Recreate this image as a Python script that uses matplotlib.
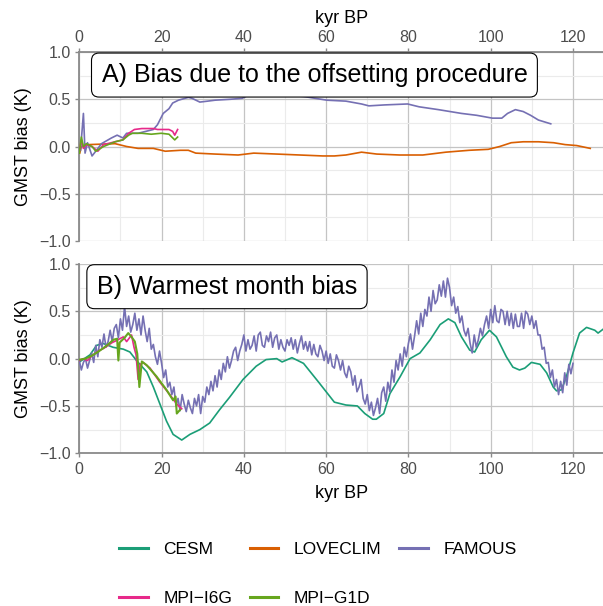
import matplotlib
matplotlib.use('Agg')
import matplotlib.pyplot as plt
from matplotlib.lines import Line2D
from matplotlib.ticker import MultipleLocator
import numpy as np

plt.rcParams['font.family'] = ['Liberation Sans', 'DejaVu Sans']

# ---------------- data ----------------
model_names = ['CESM', 'LOVECLIM', 'FAMOUS', 'MPI\u2212I6G', 'MPI\u2212G1D']
model_colors = ['#1b9e77', '#d95f02', '#7570b3', '#e7298a', '#66a61e']

# Panel A: bias due to the offsetting procedure
loveclim_a_age = [0.1, 0.5, 2.2, 8.7, 11.5, 14.3, 18, 20.9, 24.6, 26.5, 28.3, 33, 38.6, 42.4, 48,
                  53.6, 59.2, 62, 64.8, 68.6, 72.3, 77.9, 83.5, 89.1, 94.8, 99.4, 102.2, 105,
                  107.9, 111.6, 115.3, 118.1, 120.9, 124.2]
loveclim_a_gmst = [-0.07, 0.0, 0.02, 0.03, 0.0, -0.02, -0.02, -0.05, -0.04, -0.04, -0.07, -0.08,
                   -0.09, -0.07, -0.08, -0.09, -0.10, -0.10, -0.09, -0.06, -0.08, -0.09, -0.09,
                   -0.06, -0.04, -0.03, 0.0, 0.04, 0.05, 0.05, 0.04, 0.02, 0.01, -0.02]

famous_a_age = [0.3, 1.0, 1.4, 2.0, 3.1, 4.0, 5.4, 7.8, 9.2, 10.6, 11.5, 14.3, 18, 19, 20.4,
                21.8, 22.7, 24.1, 26.5, 27.4, 29.3, 31.2, 33, 36.8, 39.6, 41.4, 43.3, 45.2, 48,
                51.7, 54.5, 57.3, 60.2, 64.8, 68.6, 70.4, 74.2, 79.8, 82.6, 87.3, 92.9, 96.6,
                100.4, 102.7, 104.1, 106, 107.9, 109.7, 111.6, 114.6]
famous_a_gmst = [-0.04, 0.35, -0.07, 0.04, -0.10, -0.05, 0.03, 0.09, 0.12, 0.09, 0.14, 0.14,
                 0.18, 0.23, 0.35, 0.40, 0.46, 0.49, 0.52, 0.51, 0.47, 0.48, 0.49, 0.50, 0.51,
                 0.55, 0.57, 0.56, 0.54, 0.54, 0.53, 0.51, 0.49, 0.48, 0.45, 0.43, 0.44, 0.45,
                 0.42, 0.39, 0.35, 0.33, 0.30, 0.30, 0.35, 0.39, 0.37, 0.33, 0.28, 0.24]

mpi_i6g_a_age = [0.0, 0.5, 1.0, 1.7, 3.1, 4.5, 5.9, 8.7, 10.6, 12, 13.4, 15.2, 18, 19, 21.8,
                 22.7, 23.2, 23.9]
mpi_i6g_a_gmst = [-0.05, 0.07, -0.02, 0.02, 0.0, -0.05, 0.02, 0.05, 0.07, 0.14, 0.18, 0.19,
                  0.19, 0.18, 0.18, 0.16, 0.12, 0.18]

mpi_g1d_a_age = [0.0, 0.5, 1.0, 1.7, 3.1, 4.0, 5.9, 8.7, 10.6, 12, 12.9, 15.2, 17.5, 19.9,
                 21.8, 23.2, 23.9]
mpi_g1d_a_gmst = [-0.07, 0.10, 0.0, 0.03, 0.0, -0.05, 0.0, 0.05, 0.07, 0.12, 0.14, 0.14, 0.13,
                  0.14, 0.13, 0.07, 0.10]

# Panel B: warmest month bias
cesm_b_age = [0.2, 2.6, 4.2, 5.8, 8.2, 10.7, 12.3, 13.9, 16.4, 18, 19.6, 21.2, 22.8, 24.9,
              26.9, 29.3, 31.7, 34.1, 36.5, 39.8, 43, 45.4, 48, 49.3, 51.7, 54.5, 58.2, 62,
              64.8, 67.6, 69.4, 71.3, 72.2, 74, 75.5, 78, 80.4, 82.8, 85.3, 87.7, 89.7, 91.3,
              92.9, 94.9, 96.1, 97.7, 99.7, 101.4, 103.8, 105.4, 107, 108.3, 109.9, 112,
              113.6, 115.2, 116, 117.2, 118.4, 120, 121.6, 123.3, 125.3, 126.1, 127.3]
cesm_b_gmst = [-0.03, 0.04, 0.14, 0.16, 0.12, 0.10, 0.07, -0.02, -0.14, -0.30, -0.48, -0.66,
               -0.80, -0.86, -0.80, -0.75, -0.68, -0.54, -0.41, -0.22, -0.08, -0.01, 0.0,
               -0.035, 0.01, -0.05, -0.25, -0.46, -0.49, -0.50, -0.58, -0.64, -0.64, -0.58,
               -0.37, -0.19, 0.0, 0.06, 0.20, 0.36, 0.42, 0.38, 0.23, 0.09, 0.07, 0.20, 0.30,
               0.23, 0.02, -0.09, -0.12, -0.10, -0.04, -0.06, -0.15, -0.30, -0.34, -0.33,
               -0.19, 0.06, 0.27, 0.33, 0.30, 0.27, 0.31]

famous_b_gmst = [
    -0.02, -0.12, -0.04, 0.00,   -0.10, -0.02, 0.06, -0.04,   0.14, 0.02, 0.20, 0.12,
    0.26, 0.12, 0.18, 0.30,      0.18, 0.32, 0.36, 0.22,      0.42, 0.30, 0.55, 0.34,
    0.45, 0.28, 0.36, 0.48,      0.30, 0.42, 0.25, 0.45,      0.30, 0.18, 0.32, 0.10,
    0.15, 0.02, -0.06, 0.08,     -0.05, -0.20, -0.12, -0.30,  -0.25, -0.38, -0.30, -0.50,
    -0.42, -0.55, -0.38, -0.48,  -0.56, -0.44, -0.52, -0.58,  -0.42, -0.50, -0.38, -0.58,
    -0.40, -0.46, -0.30, -0.38,  -0.24, -0.34, -0.18, -0.30,  -0.12, -0.22, -0.05, -0.14,
    0.02, -0.10, -0.02, 0.08,    0.12, -0.02, 0.08, 0.15,     0.25, 0.08, 0.20, 0.10,
    0.14, 0.24, 0.08, 0.25,      0.28, 0.14, 0.12, 0.24,      0.18, 0.28, 0.12, 0.22,
    0.25, 0.10, 0.20, 0.12,      0.08, 0.20, 0.14, 0.22,      0.10, 0.20, 0.06, 0.16,
    0.24, 0.10, 0.18, 0.08,      0.18, 0.04, 0.15, 0.05,      0.02, 0.14, 0.08, -0.02,
    0.08, -0.05, 0.05, -0.08,    -0.10, 0.04, -0.02, -0.12,   -0.02, -0.15, -0.20, -0.08,
    -0.14, -0.28, -0.18, -0.35,  -0.30, -0.22, -0.42, -0.48,  -0.38, -0.55, -0.46, -0.60,
    -0.52, -0.42, -0.58, -0.36,  -0.30, -0.45, -0.25, -0.35,  -0.12, -0.25, -0.02, -0.12,
    0.05, -0.08, 0.12, 0.02,     0.16, 0.26, 0.10, 0.24,      0.40, 0.26, 0.48, 0.34,
    0.52, 0.45, 0.65, 0.50,      0.72, 0.58, 0.62, 0.78,      0.66, 0.82, 0.65, 0.85,
    0.75, 0.56, 0.65, 0.48,      0.55, 0.38, 0.45, 0.30,      0.24, 0.32, 0.16, 0.06,
    0.25, 0.12, 0.20, 0.32,      0.24, 0.36, 0.45, 0.32,      0.52, 0.38, 0.56, 0.40,
    0.38, 0.52, 0.50, 0.36,      0.50, 0.35, 0.48, 0.32,      0.47, 0.34, 0.34, 0.48,
    0.32, 0.50, 0.47, 0.36,      0.45, 0.32, 0.40, 0.25,      0.25, 0.10, 0.12, -0.05,
    -0.04, -0.20, -0.12, -0.30,  -0.22, -0.38, -0.24, -0.36,  -0.15, -0.28, -0.06, -0.16,
    -0.05]
famous_b_step = 0.5
famous_b_age = np.arange(len(famous_b_gmst)) * famous_b_step

mpi_i6g_b_age = [0.0, 1, 2, 3, 4, 5, 6, 7, 8, 9, 10.7, 11.5, 12.2, 12.7, 13.3, 13.8, 14.3,
                 14.8, 15.5, 17.2, 19.6, 22, 23.7, 24.9]
mpi_i6g_b_gmst = [-0.02, 0.0, -0.02, 0.03, 0.06, 0.09, 0.11, 0.14, 0.17, 0.19, 0.23, 0.18,
                  0.22, 0.25, 0.12, 0.04, -0.22, -0.06, -0.04, -0.10, -0.25, -0.38, -0.48,
                  -0.53]

mpi_g1d_b_age = [0.2, 1.5, 3, 4.5, 5.8, 7, 8.3, 9.2, 9.5, 9.8, 11, 11.9, 12.7, 13.5, 14.1,
                 14.6, 15.2, 16.4, 18.8, 21.2, 22.8, 23.4, 23.7, 24.5]
mpi_g1d_b_gmst = [-0.01, 0.0, 0.03, 0.07, 0.11, 0.15, 0.20, 0.21, -0.02, 0.17, 0.22, 0.27,
                  0.23, 0.18, 0.05, -0.30, -0.03, -0.07, -0.19, -0.33, -0.44, -0.40, -0.58,
                  -0.54]

x_ticks = [0, 20, 40, 60, 80, 100, 120]
y_ticks = [-1.0, -0.5, 0.0, 0.5, 1.0]
y_tick_labels = ['\u22121.0', '\u22120.5', '0.0', '0.5', '1.0']
panel_titles = ['A) Bias due to the offsetting procedure', 'B) Warmest month bias']

# ---------------- figure ----------------
fig = plt.figure(figsize=(6.03, 6.06), dpi=100)
axA = fig.add_axes([0.1315, 0.6023, 0.8685, 0.3119])
axB = fig.add_axes([0.1315, 0.2520, 0.8685, 0.3124])

major_c = '#c4c4c4'
minor_c = '#ebebeb'
axis_c = '#8a8a8a'
tick_txt = '#4d4d4d'

for ax in (axA, axB):
    ax.set_xlim(0, 127.3)
    ax.set_ylim(-1.0, 1.0)
    ax.set_xticks(x_ticks)
    ax.set_yticks(y_ticks)
    ax.set_yticklabels(y_tick_labels)
    ax.xaxis.set_minor_locator(MultipleLocator(10))
    ax.yaxis.set_minor_locator(MultipleLocator(0.25))
    ax.grid(which='minor', color=minor_c, lw=0.8, zorder=0)
    ax.grid(which='major', color=major_c, lw=0.9, zorder=0)
    ax.set_axisbelow(True)
    ax.tick_params(which='minor', length=0)
    ax.tick_params(which='major', length=3, width=1.0, color=axis_c,
                   labelsize=11.5, labelcolor=tick_txt)
    ax.tick_params(axis='y', pad=3)
    ax.spines['right'].set_visible(False)
    ax.spines['left'].set_color(axis_c)
    ax.spines['left'].set_linewidth(1.3)
    ax.set_ylabel('GMST bias (K)', fontsize=13, color='black')
    ax.yaxis.label.set_va('center')
    ax.yaxis.set_label_coords(-0.1056, 0.5)

# Panel A: x axis on top
axA.xaxis.tick_top()
axA.xaxis.set_label_position('top')
axA.spines['bottom'].set_visible(False)
axA.spines['top'].set_color(axis_c)
axA.spines['top'].set_linewidth(1.3)
axA.tick_params(axis='x', pad=2)
axA.set_xlabel('kyr BP', fontsize=13)
axA.xaxis.label.set_va('center')
axA.xaxis.set_label_coords(0.5, 1.175)

axB.spines['top'].set_visible(False)
axB.spines['bottom'].set_color(axis_c)
axB.spines['bottom'].set_linewidth(1.3)
axB.tick_params(axis='x', pad=3)
axB.set_xlabel('kyr BP', fontsize=13)
axB.xaxis.label.set_va('center')
axB.xaxis.set_label_coords(0.5, -0.21)

lw = 1.2
axA.plot(loveclim_a_age, loveclim_a_gmst, color=model_colors[1], lw=lw, zorder=3)
axA.plot(famous_a_age, famous_a_gmst, color=model_colors[2], lw=lw, zorder=3)
axA.plot(mpi_i6g_a_age, mpi_i6g_a_gmst, color=model_colors[3], lw=lw, zorder=3)
axA.plot(mpi_g1d_a_age, mpi_g1d_a_gmst, color=model_colors[4], lw=lw, zorder=3)

axB.plot(cesm_b_age, cesm_b_gmst, color=model_colors[0], lw=lw, zorder=3)
axB.plot(famous_b_age, famous_b_gmst, color=model_colors[2], lw=1.2, zorder=3)
axB.plot(mpi_i6g_b_age, mpi_i6g_b_gmst, color=model_colors[3], lw=lw, zorder=3)
axB.plot(mpi_g1d_b_age, mpi_g1d_b_gmst, color=model_colors[4], lw=1.5, zorder=3)

box = dict(boxstyle='round,pad=0.4,rounding_size=0.3', facecolor='white',
           edgecolor='black', linewidth=0.8)
axA.text(0.449, 0.878, panel_titles[0], transform=axA.transAxes, fontsize=18,
         ha='center', va='center', bbox=box, zorder=5)
axB.text(0.282, 0.88, panel_titles[1], transform=axB.transAxes, fontsize=18,
         ha='center', va='center', bbox=box, zorder=5)

# Legend (row-wise order: CESM, LOVECLIM, FAMOUS / MPI-I6G, MPI-G1D)
handles = {n: Line2D([], [], color=c, lw=2.2) for n, c in zip(model_names, model_colors)}
order = [model_names[0], model_names[3], model_names[1], model_names[4], model_names[2]]
fig.legend([handles[n] for n in order], order, ncol=3, loc='center',
           bbox_to_anchor=(0.527, 0.0527), frameon=False, fontsize=12.5,
           handlelength=1.65, handletextpad=0.9, columnspacing=1.0, labelspacing=1.95)

fig.savefig('out.png', dpi=100)
